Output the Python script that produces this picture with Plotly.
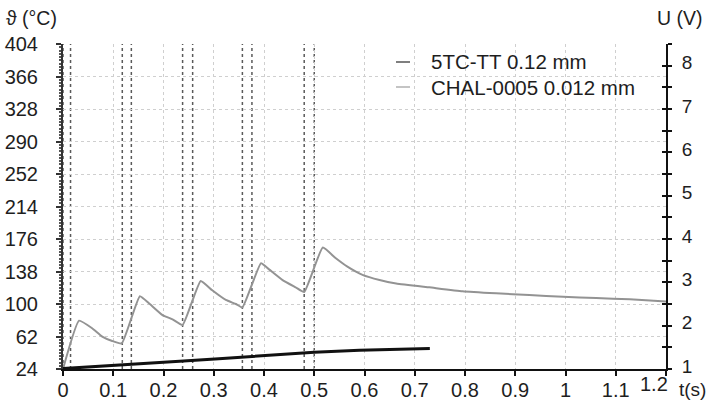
import plotly.graph_objects as go

# Thin thermocouple (fast response): time in s, temperature in °C
chal_t = [0, 0.032, 0.058, 0.078, 0.098, 0.117,
          0.153, 0.171, 0.198, 0.218, 0.238,
          0.274, 0.297, 0.324, 0.344, 0.357,
          0.394, 0.41, 0.437, 0.463, 0.48,
          0.517, 0.543, 0.566, 0.596, 0.63, 0.663, 0.729, 0.795,
          0.862, 0.928, 0.995, 1.061, 1.128, 1.2]
chal_temp = [24, 80.5, 71.6, 61.8, 56.7, 54,
             109, 100.8, 87, 82, 75.5,
             127, 116, 104.7, 100, 96,
             147.6, 140.5, 128, 119.5, 114,
             166, 153.4, 143.6, 134, 128, 124, 119.5, 115,
             112.5, 110.5, 108.5, 107, 105.5, 103]

# Sheathed thermocouple (slow response)
tc_t = [0, 0.05, 0.1, 0.17, 0.24, 0.31, 0.38, 0.45, 0.5, 0.59, 0.66, 0.73]
tc_temp = [24.5, 26.5, 28.5, 31, 33.4, 36, 39, 41.5, 43.5, 46, 47, 48]

# Heating pulse start/end times (s)
pulse_times = [0.0, 0.015, 0.118, 0.136, 0.238, 0.258, 0.357, 0.376, 0.48, 0.5]

temp_ticks = [24, 62, 100, 138, 176, 214, 252, 290, 328, 366, 404]
volt_ticks = [1, 2, 3, 4, 5, 6, 7, 8]
volt_half_ticks = [1, 1.5, 2, 2.5, 3, 3.5, 4, 4.5, 5, 5.5, 6, 6.5, 7, 7.5, 8, 8.5]
time_ticks = [0, 0.1, 0.2, 0.3, 0.4, 0.5, 0.6, 0.7, 0.8, 0.9, 1, 1.1, 1.2]
time_labels = ["0", "0.1", "0.2", "0.3", "0.4", "0.5", "0.6", "0.7", "0.8",
               "0.9", "1", "1.1", "1.2"]

series_names = ["5TC-TT 0.12 mm", "CHAL-0005 0.012 mm"]
legend_colors = ["#555555", "#b0b0b0"]

FONT = "Liberation Sans, Arial, sans-serif"
TXT = "#1e1e1e"

# plot-area geometry in pixels (used for paper-coordinate conversions)
L, R, T, B = 63, 666, 44, 369
W_PA, H_PA = R - L, B - T


def px(xp):
    return (xp - L) / W_PA


def py(yp):
    return (B - yp) / H_PA


fig = go.Figure()

fig.add_trace(go.Scatter(x=chal_t, y=chal_temp, mode="lines",
                         line=dict(color="#939393", width=2, shape="spline", smoothing=0.4),
                         name=series_names[1], showlegend=False))
fig.add_trace(go.Scatter(x=tc_t, y=tc_temp, mode="lines",
                         line=dict(color="#111111", width=3),
                         name=series_names[0], showlegend=False))

# invisible traces to activate the voltage axes
fig.add_trace(go.Scatter(x=[0], y=[1], yaxis="y2", mode="markers",
                         marker=dict(opacity=0), showlegend=False, hoverinfo="skip"))
fig.add_trace(go.Scatter(x=[0], y=[1], yaxis="y3", mode="markers",
                         marker=dict(opacity=0), showlegend=False, hoverinfo="skip"))

# pulse markers
for pt in pulse_times:
    fig.add_shape(type="line", xref="x", yref="paper", x0=pt, x1=pt, y0=0, y1=1,
                  line=dict(color="#5a5a5a", width=1.5, dash="dot"), layer="between")

# legend panel
fig.add_shape(type="rect", xref="paper", yref="paper",
              x0=px(388), x1=px(660), y0=py(100), y1=py(50),
              line=dict(width=0), fillcolor="white", layer="between")
for i, (nm, col) in enumerate(zip(series_names, legend_colors)):
    ypix = 62 + 25 * i
    fig.add_shape(type="line", xref="paper", yref="paper",
                  x0=px(396), x1=px(410), y0=py(ypix), y1=py(ypix),
                  line=dict(color=col, width=1.5), layer="above")
    fig.add_annotation(text=nm, xref="paper", yref="paper",
                       x=px(429), y=py(ypix), xanchor="left", yanchor="middle",
                       showarrow=False, font=dict(family=FONT, size=20.5, color=TXT))

# axis titles
fig.add_annotation(text="ϑ (°C)", xref="paper", yref="paper", x=px(4),
                   y=py(18), xanchor="left", yanchor="middle",
                   showarrow=False, font=dict(family=FONT, size=19.5, color=TXT))
fig.add_annotation(text="U (V)", xref="paper", yref="paper", x=px(655),
                   y=py(18), xanchor="left", yanchor="middle",
                   showarrow=False, font=dict(family=FONT, size=19.5, color=TXT))
fig.add_annotation(text="t(s)", xref="paper", yref="paper", x=px(677),
                   y=py(390), xanchor="left", yanchor="middle",
                   showarrow=False, font=dict(family=FONT, size=19, color=TXT))

# last time label sits a little left of its tick to leave room for the unit
fig.add_annotation(text=time_labels[-1], xref="x", yref="paper", x=time_ticks[-1],
                   y=py(384), xanchor="center", yanchor="middle", xshift=-12,
                   showarrow=False, font=dict(family=FONT, size=20, color=TXT))
axis_time_labels = time_labels[:-1] + [""]

fig.update_layout(
    width=720, height=405,
    margin=dict(l=L, r=720 - R, t=T, b=405 - B, autoexpand=False),
    paper_bgcolor="white", plot_bgcolor="white",
    font=dict(family=FONT, size=20, color=TXT),
    xaxis=dict(range=[0, 1.2], tickvals=time_ticks, ticktext=axis_time_labels,
               automargin=False,
               showline=True, linecolor="#111", linewidth=2,
               ticks="outside", ticklen=5, tickcolor="#111", tickwidth=1.5,
               showgrid=True, gridcolor="#cfcfcf", griddash="dot", gridwidth=1,
               zeroline=False, ticklabelstandoff=-3, tickfont=dict(size=20)),
    yaxis=dict(range=[24, 404], tickvals=temp_ticks, automargin=False,
               showline=True, linecolor="#333", linewidth=2,
               ticks="outside", ticklen=5, tickcolor="#333", tickwidth=1.5,
               minor=dict(dtick=3.8, tick0=24, ticks="outside", ticklen=2,
                          tickcolor="#555", showgrid=False),
               showgrid=True, gridcolor="#cfcfcf", griddash="dot", gridwidth=1,
               zeroline=False, ticklabelstandoff=14, tickfont=dict(size=20)),
    yaxis2=dict(range=[1, 8.5], tickvals=volt_ticks, overlaying="y", side="right",
                automargin=False,
                showline=True, linecolor="#111", linewidth=2,
                ticks="outside", ticklen=4, tickcolor="#111", tickwidth=1.5,
                minor=dict(dtick=0.5, tick0=1, ticks="outside", ticklen=4,
                           tickcolor="#111", tickwidth=1.5),
                showgrid=False, zeroline=False, ticklabelstandoff=6,
                ticklabelshift=-3, tickfont=dict(size=19)),
    yaxis3=dict(range=[1, 8.5], overlaying="y", side="right", anchor="x",
                automargin=False, tickvals=volt_half_ticks,
                ticks="inside", ticklen=4, tickcolor="#111", tickwidth=1.5,
                showticklabels=False, showgrid=False, zeroline=False,
                showline=False),
)

fig.write_html("out.html")
